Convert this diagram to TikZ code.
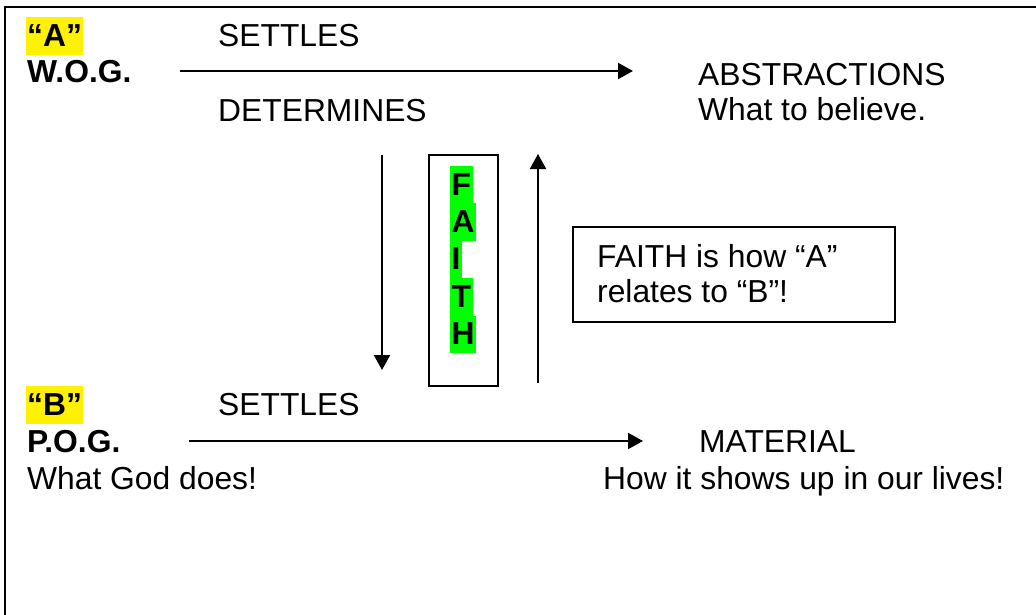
\documentclass[tikz,border=0pt]{standalone}
\usepackage{fontspec}
\setmainfont{Liberation Sans}
\usetikzlibrary{arrows.meta}
\tikzset{
  txt/.style={anchor=base west, inner sep=0pt, font=\fontsize{31.8}{37}\selectfont},
  btxt/.style={txt, font=\fontsize{31.8}{37}\selectfont\bfseries},
  hl/.style={btxt, fill=yellow, inner xsep=1pt, inner ysep=2.5pt, text height=27pt, text depth=6pt},
  gl/.style={btxt, fill=green, inner xsep=1.5pt, inner ysep=0pt, text height=29pt, text depth=8.4pt},
  arr/.style={line width=2pt, -{Triangle[length=15pt,width=16pt]}},
  boxline/.style={draw, line width=1.5pt}
}
\begin{document}
\begin{tikzpicture}[x=1pt,y=-1pt]
\useasboundingbox (0,0) rectangle (1036,615);
\fill[white] (0,0) rectangle (1036,615);
% outer frame
\coordinate (ftr) at (1040,7);
\coordinate (ftl) at (5,7);
\coordinate (fbl) at (5,620);
\draw[line width=2pt] (ftr) -- (ftl) -- (fbl);
% top row
\node[hl] (qa) at (26,47) {“A”};
\node[btxt] (wog) at (27,83) {W.O.G.};
\node[txt] (set1) at (218,47) {SETTLES};
\node[txt] (det) at (218,122) {DETERMINES};
\node[txt] (abs) at (698,86) {ABSTRACTIONS};
\node[txt] (wtb) at (698,121) {What to believe.};
\coordinate (a1s) at (180,71);
\coordinate (a1e) at (633,71);
\draw[arr] (a1s) -- (a1e);
% vertical arrows
\coordinate (dns) at (382,155);
\coordinate (dne) at (382,370);
\draw[arr] (dns) -- (dne);
\coordinate (ups) at (538,383);
\coordinate (upe) at (538,154);
\draw[arr] (ups) -- (upe);
% FAITH box
\node[boxline, minimum width=69pt, minimum height=231pt, inner sep=0pt] (fbox) at (463.5,270.5) {};
\node[gl] (lf) at (450,195) {F};
\node[gl] (la) at (450,232.4) {A};
\node[gl] (li) at (450,269.8) {I};
\node[gl] (lt) at (450,307.2) {T};
\node[gl] (lh) at (450,344.6) {H};
% callout
\node[boxline, minimum width=322pt, minimum height=95pt, inner sep=0pt] (call) at (734,274.5) {};
\node[txt] (c1) at (597,267) {FAITH is how “A”};
\node[txt] (c2) at (597,302) {relates to “B”!};
% bottom row
\node[hl] (qb) at (26,415) {“B”};
\node[txt] (set2) at (218,415) {SETTLES};
\node[btxt] (pog) at (27,452) {P.O.G.};
\node[txt] (wgd) at (27,489) {What God does!};
\node[txt] (mat) at (699,452) {MATERIAL};
\node[txt] (how) at (603,489) {How it shows up in our lives!};
\coordinate (a2s) at (189,441);
\coordinate (a2e) at (643,441);
\draw[arr] (a2s) -- (a2e);
\end{tikzpicture}
\end{document}
